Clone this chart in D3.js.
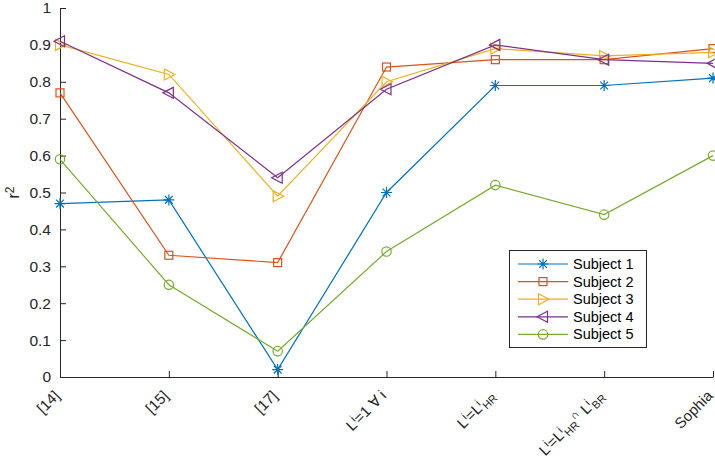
<!DOCTYPE html>
<html>
<head>
<meta charset="utf-8">
<script src="https://cdn.jsdelivr.net/npm/d3@7"></script>
<style>
  body { margin: 0; background: #fff; }
  svg { font-family: "Liberation Sans", Arial, sans-serif; }
</style>
</head>
<body>
<div id="chart"></div>
<script>
const categories = ['[14]', '[15]', '[17]', 'c4', 'c5', 'c6', 'Sophia']
const subject1 = [0.47, 0.48, 0.02, 0.50, 0.79, 0.79, 0.81]
const subject2 = [0.77, 0.33, 0.31, 0.84, 0.86, 0.86, 0.89]
const subject3 = [0.90, 0.82, 0.49, 0.80, 0.89, 0.87, 0.88]
const subject4 = [0.91, 0.77, 0.54, 0.78, 0.90, 0.86, 0.85]
const subject5 = [0.59, 0.25, 0.07, 0.34, 0.52, 0.44, 0.60]
const seriesNames = ['Subject 1', 'Subject 2', 'Subject 3', 'Subject 4', 'Subject 5']
const yTicks = [0, 0.1, 0.2, 0.3, 0.4, 0.5, 0.6, 0.7, 0.8, 0.9, 1]

// tick labels with super/subscripts: [text, shift] pieces
const labelParts = {
  '[14]': [['[14]', 0]],
  '[15]': [['[15]', 0]],
  '[17]': [['[17]', 0]],
  'c4': [['L', 0], ['i', 'sup'], ['=1  \u2200 i', 0]],
  'c5': [['L', 0], ['i', 'sup'], ['=L', 0], ['i', 'sup'], ['HR', 'sub']],
  'c6': [['L', 0], ['i', 'sup'], ['=L', 0], ['i', 'sup'], ['HR', 'sub'], ['\u2229', 'sup'], [' L', 0], ['i', 'sup'], ['BR', 'sub']],
  'Sophia': [['Sophia', 0]],
}

const series = [subject1, subject2, subject3, subject4, subject5].map((values, i) => ({
  name: seriesNames[i],
  values: values,
}))
const colors = ['#0072BD', '#D95319', '#EDB120', '#7E2F8E', '#77AC30']
const markers = ['asterisk', 'square', 'triRight', 'triLeft', 'circle']

const totalWidth = 715
const totalHeight = 469
const axeColor = '#262626'

const svg = d3.select('#chart')
  .append('svg')
  .attr('width', totalWidth)
  .attr('height', totalHeight)

const x = d3.scalePoint()
  .domain(categories)
  .range([60, 713])

const y = d3.scaleLinear()
  .domain([0, 1])
  .range([377, 8])

// y axis
const yAxis = svg.append('g')
  .attr('transform', 'translate(60,0)')
  .call(d3.axisLeft(y).tickValues(yTicks).tickSize(-6).tickPadding(9).tickFormat(d3.format('~g')))
yAxis.select('.domain').attr('stroke', axeColor)
yAxis.selectAll('.tick line').attr('stroke', axeColor)
yAxis.selectAll('.tick text')
  .style('fill', axeColor)
  .style('font-size', '15.5px')
  .style('font-family', '"Liberation Sans", Arial, sans-serif')

// x axis
const xAxis = svg.append('g')
  .attr('transform', 'translate(0,377)')
  .call(d3.axisBottom(x).tickSize(-6).tickFormat(''))
xAxis.select('.domain').attr('stroke', axeColor).attr('d', 'M60.5,0.5H713.5')
xAxis.selectAll('.tick line').attr('stroke', axeColor)
xAxis.selectAll('.tick text').remove()

// rotated tick labels
const labels = svg.append('g')
  .selectAll('text')
  .data(categories)
  .join('text')
  .attr('transform', d => `translate(${x(d) - 3},${393}) rotate(-45)`)
  .attr('text-anchor', 'end')
  .attr('dy', '0.35em')
  .style('font-size', '15px')
  .style('fill', axeColor)

labels.each(function (d) {
  const t = d3.select(this)
  labelParts[d].forEach(([txt, shift]) => {
    const span = t.append('tspan').text(txt)
    if (shift === 'sup') span.attr('baseline-shift', '45%').style('font-size', '11px')
    if (shift === 'sub') span.attr('baseline-shift', '-30%').style('font-size', '11px')
  })
})

// y label
svg.append('text')
  .attr('transform', `translate(19,${y(0.5)}) rotate(-90)`)
  .attr('text-anchor', 'middle')
  .style('font-size', '16px')
  .style('fill', axeColor)
  .call(t => {
    t.append('tspan').text('r')
    t.append('tspan').text('2').attr('baseline-shift', '45%').style('font-size', '12px')
  })

function drawMarker(g, type, color) {
  if (type === 'asterisk') {
    const r = 5.5
    const a = r * Math.SQRT1_2
    g.append('path')
      .attr('d', `M${-r},0H${r}M0,${-r}V${r}M${-a},${-a}L${a},${a}M${-a},${a}L${a},${-a}`)
      .attr('stroke', color).attr('fill', 'none').attr('stroke-width', 1.2)
  } else if (type === 'square') {
    g.append('rect').attr('x', -4).attr('y', -4).attr('width', 8).attr('height', 8)
      .attr('stroke', color).attr('fill', 'none').attr('stroke-width', 1.2)
  } else if (type === 'triRight') {
    g.append('path').attr('d', 'M-4.5,-5.5L6,0L-4.5,5.5Z')
      .attr('stroke', color).attr('fill', 'none').attr('stroke-width', 1.2)
  } else if (type === 'triLeft') {
    g.append('path').attr('d', 'M4.5,-5.5L-6,0L4.5,5.5Z')
      .attr('stroke', color).attr('fill', 'none').attr('stroke-width', 1.2)
  } else {
    g.append('circle').attr('r', 4.7)
      .attr('stroke', color).attr('fill', 'none').attr('stroke-width', 1.2)
  }
}

const line = d3.line()
  .x((d, i) => x(categories[i]))
  .y(d => y(d))

const lines = svg.append('g')
series.forEach((s, i) => {
  const g = lines.append('g')
  g.append('path')
    .attr('d', line(s.values))
    .attr('fill', 'none')
    .attr('stroke', colors[i])
    .attr('stroke-width', 1.2)
  s.values.forEach((v, j) => {
    const m = g.append('g').attr('transform', `translate(${x(categories[j])},${y(v)})`)
    drawMarker(m, markers[i], colors[i])
  })
})

// legend
const legend = svg.append('g').attr('transform', 'translate(509,250)')
legend.append('rect')
  .attr('x', 0.5).attr('y', 0.5)
  .attr('width', 137).attr('height', 97)
  .attr('fill', '#fff')
  .attr('stroke', axeColor)
  .attr('stroke-width', 1)
series.forEach((s, i) => {
  const row = legend.append('g').attr('transform', `translate(0,${14 + i * 17.6})`)
  row.append('line')
    .attr('x1', 9).attr('x2', 59)
    .attr('stroke', colors[i]).attr('stroke-width', 1.2)
  drawMarker(row.append('g').attr('transform', 'translate(34,0)'), markers[i], colors[i])
  row.append('text')
    .attr('x', 64).attr('dy', '0.35em')
    .style('font-size', '14.5px')
    .style('fill', '#000')
    .text(s.name)
})
</script>
</body>
</html>
